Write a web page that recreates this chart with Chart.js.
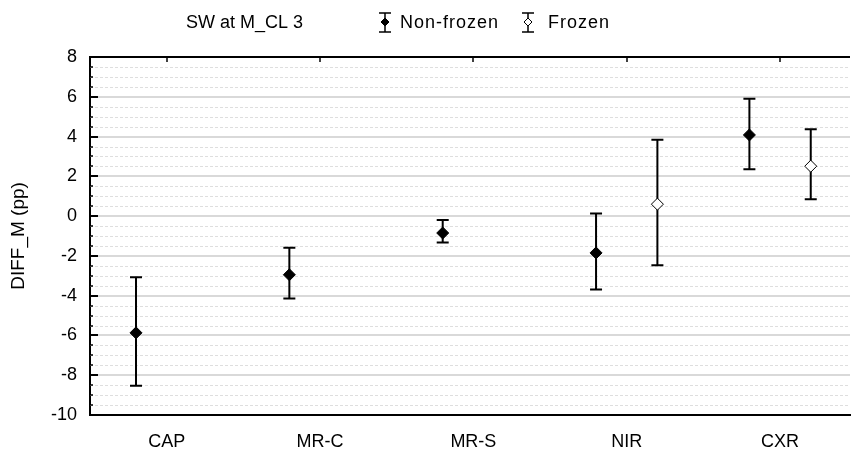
<!DOCTYPE html>
<html lang="en">
<head>
<meta charset="UTF-8">
<title>SW at M_CL 3</title>
<script src="https://cdn.jsdelivr.net/npm/chart.js"></script>
<style>
    body { margin: 0; background: #fff; overflow: hidden; }
    canvas { display: block; }
</style>
</head>
<body>
<canvas id="grafico" width="857" height="450"></canvas>
<script>
    // data
    const categorias = ['CAP', 'MR-C', 'MR-S', 'NIR', 'CXR'];
    const noCongMedia = [-5.87, -2.95, -0.85, -1.85, 4.08];
    const noCongBajo  = [-8.53, -4.14, -1.33, -3.69, 2.36];
    const noCongAlto  = [-3.08, -1.59, -0.20, 0.13, 5.90];
    const congMedia = [null, null, null, 0.60, 2.51];
    const congBajo  = [null, null, null, -2.47, 0.85];
    const congAlto  = [null, null, null, 3.84, 4.37];
    const yTicks = [-10, -8, -6, -4, -2, 0, 2, 4, 6, 8];
    const tituloLeyenda = 'SW at M_CL 3';
    const series = ['Non-frozen', 'Frozen'];

    const DESPL = 0.2;
    const FUENTE = 'Arial, "Liberation Sans", sans-serif';

    function puntos(medias, d) {
        const out = [];
        medias.forEach((m, i) => { if (m !== null) out.push({ x: i + 1 + d, y: m }); });
        return out;
    }

    function barra(ctx, x, yb, ya, cap) {
        ctx.beginPath();
        ctx.moveTo(x, yb); ctx.lineTo(x, ya);
        ctx.moveTo(x - cap, yb); ctx.lineTo(x + cap, yb);
        ctx.moveTo(x - cap, ya); ctx.lineTo(x + cap, ya);
        ctx.stroke();
    }

    function diamante(ctx, x, y, r, relleno) {
        ctx.beginPath();
        ctx.moveTo(x, y - r); ctx.lineTo(x + r, y); ctx.lineTo(x, y + r); ctx.lineTo(x - r, y);
        ctx.closePath();
        ctx.fillStyle = relleno;
        ctx.fill();
        ctx.lineWidth = 1;
        ctx.strokeStyle = '#000';
        ctx.stroke();
    }

    const decoracion = {
        id: 'decoracion',
        beforeDatasetsDraw(chart) {
            const ctx = chart.ctx;
            const a = chart.chartArea;
            const xs = chart.scales.x, ys = chart.scales.y;
            ctx.save();
            // lineas secundarias
            ctx.strokeStyle = '#dedede';
            ctx.lineWidth = 1;
            ctx.setLineDash([3, 2]);
            for (let v = -10; v <= 8; v += 0.5) {
                if (v % 2 === 0) continue;
                const y = Math.round(ys.getPixelForValue(v)) + 0.5;
                ctx.beginPath(); ctx.moveTo(a.left, y); ctx.lineTo(a.right, y); ctx.stroke();
            }
            ctx.setLineDash([]);
            // barras de error
            ctx.strokeStyle = '#000';
            ctx.lineWidth = 2;
            noCongMedia.forEach((m, i) => {
                if (m === null) return;
                barra(ctx, xs.getPixelForValue(i + 1 - DESPL), ys.getPixelForValue(noCongBajo[i]), ys.getPixelForValue(noCongAlto[i]), 6);
            });
            congMedia.forEach((m, i) => {
                if (m === null) return;
                barra(ctx, xs.getPixelForValue(i + 1 + DESPL), ys.getPixelForValue(congBajo[i]), ys.getPixelForValue(congAlto[i]), 6);
            });
            ctx.restore();
        },
        afterDraw(chart) {
            const ctx = chart.ctx;
            const a = chart.chartArea;
            const xs = chart.scales.x, ys = chart.scales.y;
            ctx.save();
            ctx.strokeStyle = '#000';
            // borde superior
            ctx.lineWidth = 2;
            ctx.beginPath(); ctx.moveTo(a.left, a.top); ctx.lineTo(a.right, a.top); ctx.stroke();
            // marcas arriba
            ctx.lineWidth = 1.5;
            categorias.forEach((c, i) => {
                const x = Math.round(xs.getPixelForValue(i + 1));
                ctx.beginPath(); ctx.moveTo(x, a.top); ctx.lineTo(x, a.top + 5); ctx.stroke();
            });
            // marcas eje y hacia dentro
            for (let v = -10; v <= 8; v += 0.5) {
                const y = Math.round(ys.getPixelForValue(v));
                const largo = v % 2 === 0 ? 8 : 3;
                ctx.lineWidth = v % 2 === 0 ? 2 : 1.5;
                ctx.beginPath(); ctx.moveTo(a.left, y); ctx.lineTo(a.left + largo, y); ctx.stroke();
            }
            // leyenda
            ctx.fillStyle = '#000';
            ctx.font = '18px ' + FUENTE;
            ctx.textBaseline = 'middle';
            ctx.textAlign = 'left';
            ctx.fillText(tituloLeyenda, 186, 23);
            ctx.strokeStyle = '#000';
            ctx.lineWidth = 1.5;
            barra(ctx, 385, 32, 13, 6);
            diamante(ctx, 385, 22, 4, '#000');
            ctx.fillStyle = '#000';
            ctx.letterSpacing = '1px';
            ctx.fillText(series[0], 400, 23);
            ctx.lineWidth = 1.5;
            barra(ctx, 528, 32, 13, 6);
            diamante(ctx, 528, 22, 4, '#fff');
            ctx.fillStyle = '#000';
            ctx.fillText(series[1], 548, 23);
            ctx.restore();
        }
    };

    const ctx = document.getElementById('grafico').getContext('2d');
    new Chart(ctx, {
        type: 'scatter',
        data: {
            datasets: [{
                label: series[0],
                data: puntos(noCongMedia, -DESPL),
                pointStyle: 'rectRot',
                pointRadius: 6,
                backgroundColor: '#000',
                borderColor: '#000',
                borderWidth: 1
            }, {
                label: series[1],
                data: puntos(congMedia, DESPL),
                pointStyle: 'rectRot',
                pointRadius: 6,
                backgroundColor: '#fff',
                borderColor: '#000',
                borderWidth: 1
            }]
        },
        options: {
            responsive: false,
            animation: false,
            layout: { padding: { top: 57, right: 0, left: 0, bottom: 0 } },
            plugins: {
                legend: { display: false },
                tooltip: { enabled: false }
            },
            scales: {
                x: {
                    type: 'linear',
                    min: 0.5,
                    max: 5.456,
                    afterBuildTicks: s => { s.ticks = categorias.map((c, i) => ({ value: i + 1 })); },
                    afterFit: s => { s.height = 35; },
                    grid: { display: false, drawTicks: false },
                    border: { display: true, color: '#000', width: 2 },
                    ticks: {
                        color: '#000',
                        font: { family: FUENTE, size: 18 },
                        padding: 16,
                        autoSkip: false,
                        maxRotation: 0,
                        callback: v => categorias[Math.round(v) - 1]
                    }
                },
                y: {
                    min: -10,
                    max: 8,
                    afterBuildTicks: s => { s.ticks = yTicks.map(v => ({ value: v })); },
                    afterFit: s => { s.width = 90; },
                    grid: { color: '#d9d9d9', lineWidth: 2, drawTicks: false },
                    border: { display: true, color: '#000', width: 2 },
                    title: {
                        display: true,
                        text: 'DIFF_M (pp)',
                        color: '#000',
                        font: { family: FUENTE, size: 19 },
                        padding: { top: 7, bottom: 0 }
                    },
                    ticks: {
                        color: '#000',
                        font: { family: FUENTE, size: 18 },
                        padding: 13
                    }
                }
            }
        },
        plugins: [decoracion]
    });
</script>
</body>
</html>
